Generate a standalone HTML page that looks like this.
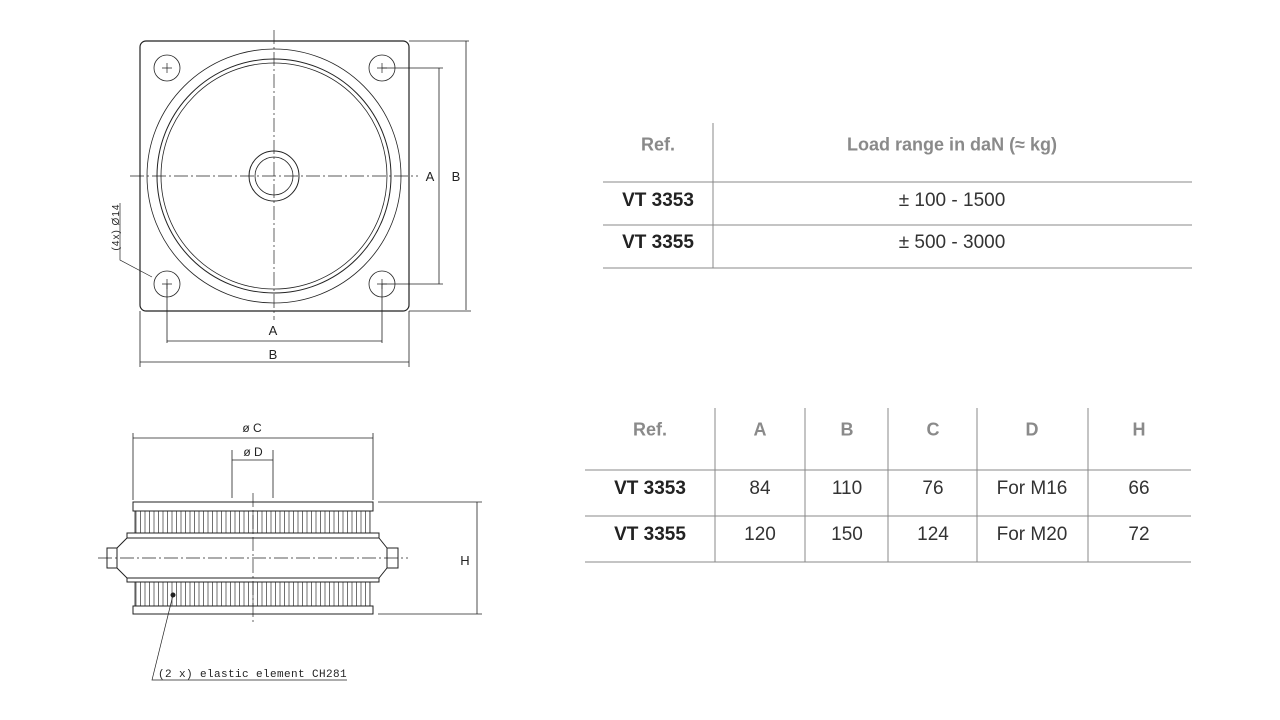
<!DOCTYPE html>
<html><head><meta charset="utf-8"><style>
body{margin:0;background:#fff;width:1280px;height:720px;overflow:hidden;position:relative;font-family:"Liberation Sans",sans-serif}
.t{position:absolute;font-size:19px;color:#333;transform:translate(-50%,-50%);white-space:nowrap}
.h{color:#8a8a8a;font-weight:bold;font-size:18px}
.b{font-weight:bold;color:#222}
</style></head><body>
<svg width="1280" height="720" style="position:absolute;left:0;top:0" font-family="Liberation Sans, sans-serif">
<defs>
<pattern id="rib" x="135" y="0" width="4.5" height="10" patternUnits="userSpaceOnUse"><line x1="1" y1="0" x2="1" y2="10" stroke="#333" stroke-width="0.7"/></pattern>
</defs>
<g fill="none" stroke="#222" stroke-width="1">
<rect x="140" y="41" width="269" height="270" rx="6" stroke-width="1.2"/>
<circle cx="274" cy="176" r="127" stroke-width="0.8"/>
<circle cx="274" cy="176" r="117"/>
<circle cx="274" cy="176" r="113" stroke-width="0.8"/>
<circle cx="274" cy="176" r="25"/>
<circle cx="274" cy="176" r="19" stroke-width="0.8"/>
<circle cx="167" cy="68" r="13" stroke-width="0.8"/><circle cx="382" cy="68" r="13" stroke-width="0.8"/>
<circle cx="167" cy="284" r="13" stroke-width="0.8"/><circle cx="382" cy="284" r="13" stroke-width="0.8"/>
<path d="M162 68h10M167 63v10M377 68h10M382 63v10M162 284h10M167 279v10M377 284h10M382 279v10" stroke-width="0.7"/>
<path d="M274 30V320M130 176H418" stroke-width="0.7" stroke-dasharray="14 3 2 3"/>
<path d="M382 68H443M382 284H443M439 68V284M409 41H469M409 311H471M466 41V310" stroke-width="0.8"/>
<path d="M167 284V343M382 284V343M167 341H382M140 311V367M409 311V367M140 362H409" stroke-width="0.8"/>
<path d="M120 203V260L152 277" stroke-width="0.7"/>
<rect x="133" y="502" width="240" height="9"/>
<rect x="135" y="511" width="235" height="22" fill="url(#rib)" stroke-width="0.8"/>
<rect x="127" y="533" width="252" height="5"/>
<path d="M127 538L117 548V568L127 578H379L387 568V548L379 538" />
<rect x="107" y="548" width="10" height="20"/>
<rect x="387" y="548" width="11" height="20"/>
<rect x="127" y="578" width="252" height="4"/>
<rect x="135" y="582" width="235" height="24" fill="url(#rib)" stroke-width="0.8"/>
<rect x="133" y="606" width="240" height="8"/>
<path d="M98 558H408M253 493V623" stroke-width="0.7" stroke-dasharray="14 3 2 3"/>
<path d="M133 433V500M373 433V500M133 438H373M232 450V498M273 450V498M232 460H273" stroke-width="0.8"/>
<path d="M378 502H482M378 614H482M477 502V614" stroke-width="0.8"/>
<path d="M173 595L152 680H347" stroke-width="0.7"/>
</g>
<circle cx="173" cy="595" r="2.5" fill="#222"/>
<g fill="#222" font-size="13" text-anchor="middle">
<text x="430" y="181">A</text><text x="456" y="181">B</text>
<text x="273" y="335">A</text><text x="273" y="359">B</text>
<text x="252" y="432" font-size="12">ø C</text><text x="253" y="456" font-size="12">ø D</text>
<text x="465" y="565">H</text>
<text x="119" y="227" font-size="10" letter-spacing="1" transform="rotate(-90 119 227)">(4x) Ø14</text>
<text x="158" y="677" font-size="11" letter-spacing="0.4" text-anchor="start" font-family="Liberation Mono, monospace">(2 x) elastic element CH281</text>
</g>
<g stroke="#888" stroke-width="1">
<path d="M713 123V268M603 182H1192M603 225H1192M603 268H1192"/>
<path d="M715 408V562M805 408V562M888 408V562M977 408V562M1088 408V562M585 470H1191M585 516H1191M585 562H1191"/>
</g>
</svg>
<div class="t h" style="left:658px;top:145px">Ref.</div>
<div class="t h" style="left:952px;top:145px">Load range in daN (≈ kg)</div>
<div class="t b" style="left:658px;top:201px">VT 3353</div>
<div class="t" style="left:952px;top:201px">± 100 - 1500</div>
<div class="t b" style="left:658px;top:243px">VT 3355</div>
<div class="t" style="left:952px;top:243px">± 500 - 3000</div>

<div class="t h" style="left:650px;top:430px">Ref.</div>
<div class="t h" style="left:760px;top:430px">A</div>
<div class="t h" style="left:847px;top:430px">B</div>
<div class="t h" style="left:933px;top:430px">C</div>
<div class="t h" style="left:1032px;top:430px">D</div>
<div class="t h" style="left:1139px;top:430px">H</div>
<div class="t b" style="left:650px;top:489px">VT 3353</div>
<div class="t" style="left:760px;top:489px">84</div>
<div class="t" style="left:847px;top:489px">110</div>
<div class="t" style="left:933px;top:489px">76</div>
<div class="t" style="left:1032px;top:489px">For M16</div>
<div class="t" style="left:1139px;top:489px">66</div>
<div class="t b" style="left:650px;top:535px">VT 3355</div>
<div class="t" style="left:760px;top:535px">120</div>
<div class="t" style="left:847px;top:535px">150</div>
<div class="t" style="left:933px;top:535px">124</div>
<div class="t" style="left:1032px;top:535px">For M20</div>
<div class="t" style="left:1139px;top:535px">72</div>
</body></html>
